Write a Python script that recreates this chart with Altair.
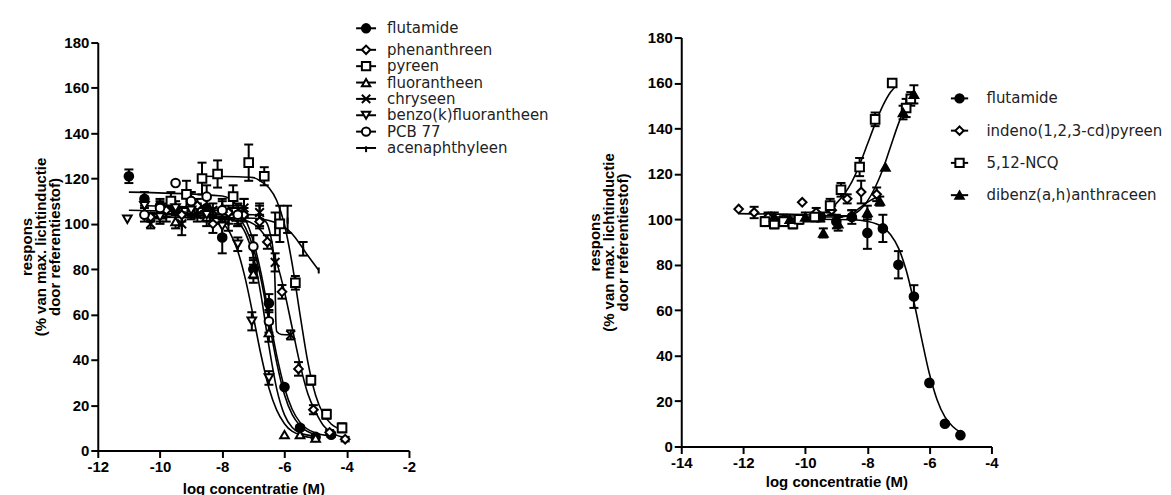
import altair as alt
import pandas as pd

# ---------------- series names ----------------
LEFT_SERIES = ["flutamide", "phenanthreen", "pyreen", "fluorantheen", "chryseen",
               "benzo(k)fluorantheen", "PCB 77", "acenaphthyleen"]
RIGHT_SERIES = ["flutamide", "indeno(1,2,3-cd)pyreen", "5,12-NCQ", "dibenz(a,h)anthraceen"]

# ---------------- left panel: measured points (x, y, sem) ----------------
L_FLU_X = [-11, -10.5, -10, -9.5, -9, -8.5, -8, -7.5, -7, -6.5, -6, -5.5, -5, -4.5]
L_FLU_Y = [121, 111, 108, 106, 110, 107, 94, 104, 80, 65, 28, 10, 6, 7]
L_FLU_E = [3, 3, 3, 2, 4, 4, 7, 5, 4, 4, 0, 1, 1, 1]

L_PHE_X = [-10.3, -9.8, -9.3, -8.8, -8.3, -7.8, -7.3, -6.8, -6.55, -6.08, -5.55, -5.07, -4.55, -4.05]
L_PHE_Y = [103, 106, 104, 108, 100, 105, 104, 101, 92, 70, 36, 18, 8, 5]
L_PHE_E = [2, 3, 3, 3, 4, 3, 3, 3, 3, 3, 3, 2, 1, 1]

L_PYR_X = [-9.65, -9.15, -8.65, -8.15, -7.65, -7.15, -6.65, -6.15, -5.65, -5.15, -4.65, -4.15]
L_PYR_Y = [110, 113, 120, 122, 112, 127, 121, 100, 74, 31, 16, 10]
L_PYR_E = [4, 6, 7, 6, 5, 8, 4, 8, 3, 2, 2, 2]

L_FLR_X = [-10, -9.5, -9, -8.5, -8, -7.5, -7, -6.5, -6, -5.5, -5]
L_FLR_Y = [104, 101, 106, 103, 107, 103, 78, 52, 7, 7, 5.5]
L_FLR_E = [3, 3, 3, 4, 4, 4, 4, 4, 0, 0, 0]

L_CHR_X = [-10.3, -9.3, -8.8, -8.3, -7.8, -7.3, -6.8, -6.3, -5.8]
L_CHR_Y = [100, 100, 104, 106, 103, 107, 105, 83, 51]
L_CHR_E = [0, 0, 3, 3, 3, 4, 3, 4, 2]

L_BEN_X = [-11.05, -10.5, -10, -9.5, -9, -8.5, -8, -7.5, -7.05, -6.5]
L_BEN_Y = [102, 108, 103, 107, 106, 104, 99, 91, 57, 32]
L_BEN_E = [0, 4, 3, 3, 4, 3, 4, 3, 4, 3]

L_PCB_X = [-10.5, -10, -9.5, -9, -8.5, -8, -7.5, -7, -6.5]
L_PCB_Y = [104, 107, 118, 110, 112, 106, 104, 90, 57]
L_PCB_E = [3, 3, 0, 4, 5, 4, 4, 5, 5]

L_ACE_X = [-10.3, -9.8, -9.3, -8.8, -8.3, -7.8, -7.3, -6.8, -6.3, -5.9, -5.4, -4.9]
L_ACE_Y = [101, 104, 99, 106, 103, 101, 107, 104, 100, 102, 89, 80]
L_ACE_E = [3, 3, 4, 3, 3, 4, 4, 5, 5, 6, 3, 0]

# ---------------- left panel: fitted curves ----------------
L_FLU_CX = [-11, -8, -7.5, -7.25, -7, -6.75, -6.5, -6.25, -6, -5.75, -5.5, -5, -4.5]
L_FLU_CY = [114, 112.3, 107.6, 101.9, 92.3, 78, 60, 42, 27.7, 18.1, 12.4, 7.7, 6.4]

L_PHE_CX = [-10.3, -7.5, -7, -6.75, -6.5, -6.25, -6, -5.75, -5.5, -5.25, -5, -4.75, -4.5, -4]
L_PHE_CY = [103, 102, 100, 97, 92, 83, 70, 54, 38, 25, 17, 11, 8, 5.5]

L_PYR_CX = [-8.7, -7.5, -7, -6.75, -6.5, -6.25, -6, -5.75, -5.5, -5.25, -5, -4.75, -4.5, -4.15]
L_PYR_CY = [121, 120.8, 120.4, 118.7, 115.9, 110.3, 99.6, 82.1, 60, 39.1, 24.4, 16, 11.7, 9.2]

L_FLR_CX = [-10, -8, -7.5, -7.25, -7, -6.75, -6.5, -6.25, -6, -5.75, -5.5, -5]
L_FLR_CY = [104, 103.4, 100.6, 95.8, 85.7, 68.2, 46, 27.2, 15.7, 10.1, 7.7, 6.3]

L_CHR_CX = [-10.3, -7, -6.6, -6.45, -6.35, -6.3, -6.28, -6.25, -6.1, -5.8]
L_CHR_CY = [104.5, 104, 101, 95, 86, 72, 58, 52.5, 51.2, 51]

L_BEN_CX = [-11, -8.5, -8, -7.75, -7.5, -7.25, -7, -6.75, -6.5, -6.25, -6, -5.5, -5]
L_BEN_CY = [106, 104.6, 100.7, 96, 87.9, 75.3, 59, 41.9, 27.6, 17.8, 11.8, 6.8, 5.4]

L_PCB_CX = [-10.5, -8, -7.5, -7.25, -7, -6.75, -6.5, -6.25, -6, -5.75, -5.5, -5]
L_PCB_CY = [108, 106.8, 103.1, 98.2, 89.3, 75.2, 57, 38.8, 24.6, 15.8, 10.9, 7]

L_ACE_CX = [-10.3, -7, -6.5, -6, -5.75, -5.5, -5.25, -4.9]
L_ACE_CY = [103, 102.5, 101.5, 98.5, 95.5, 91, 86, 79.5]

# ---------------- right panel: measured points ----------------
R_FLU_X = [-9.5, -9, -8.5, -8, -7.5, -7, -6.5, -6, -5.5, -5]
R_FLU_Y = [101, 99, 101, 94, 96, 80, 66, 28, 10, 5]
R_FLU_E = [2, 3, 3, 7, 6, 6, 5, 0, 0, 0]

R_IND_X = [-12.15, -11.65, -11.2, -10.7, -10.1, -9.65, -9.15, -8.65, -8.2, -7.7]
R_IND_Y = [104.5, 103, 101, 100, 107.5, 103, 104, 109, 112, 111]
R_IND_E = [0, 2.5, 2, 2, 0, 2, 2, 2, 5, 3]

R_NCQ_X = [-11.3, -11.0, -10.7, -10.4, -10.2, -9.7, -9.2, -8.85, -8.25, -7.75, -7.2, -6.75, -6.6]
R_NCQ_Y = [99, 98, 99, 98, 100, 101, 106, 113, 123, 144, 160, 149, 153]
R_NCQ_E = [2, 2, 2, 2, 2, 2, 3, 3, 4, 3, 0, 4, 3]

R_DIB_X = [-11, -10.5, -10, -9.42, -8.94, -8.5, -8.0, -7.6, -7.42, -6.85, -6.5]
R_DIB_Y = [101, 100, 101, 94, 98, 102, 103, 108, 123, 147, 155]
R_DIB_E = [2, 2, 2, 2, 3, 2, 3, 2, 0, 3, 4]

# ---------------- right panel: fitted curves ----------------
R_FLU_CX = [-9.7, -8.5, -8, -7.5, -7.25, -7, -6.75, -6.5, -6.25, -6, -5.75, -5.5, -5.25, -5]
R_FLU_CY = [100, 99.8, 99.1, 96.5, 93.2, 87.4, 77.7, 63.7, 47.4, 32, 20.5, 13, 8.8, 6.3]

R_IND_CX = [-12.15, -10, -9, -8.6, -8.3, -8, -7.6]
R_IND_CY = [102.5, 102, 101.5, 101.5, 104.5, 107.5, 110.5]

R_NCQ_CX = [-11.3, -10, -9.5, -9.25, -9, -8.75, -8.5, -8.25, -8, -7.75, -7.5, -7.25, -7.05]
R_NCQ_CY = [100, 100.5, 102, 104, 107, 111, 116.5, 124, 133, 142, 150, 156, 159]

R_DIB_CX = [-11, -9, -8.6, -8.25, -8, -7.75, -7.5, -7.25, -7, -6.75, -6.5]
R_DIB_CY = [101, 101, 101.5, 104, 108, 114, 122, 132, 142, 150, 155]

# ---------------- axis ticks ----------------
Y_TICKS = [0, 20, 40, 60, 80, 100, 120, 140, 160, 180]
L_X_TICKS = [-12, -10, -8, -6, -4, -2]
R_X_TICKS = [-14, -12, -10, -8, -6, -4]

# ---------------- styles ----------------
X_PATH = "M-1,-1L1,1M-1,1L1,-1"
TICK_PATH = "M0,-0.4L0,1"
LEFT_SHAPES = ["circle", "diamond", "square", "triangle-up", X_PATH, "triangle-down", "circle", TICK_PATH]
LEFT_FILLS = ["black", "white", "white", "white", "transparent", "white", "white", "black"]
RIGHT_SHAPES = ["circle", "diamond", "square", "triangle-up"]
RIGHT_FILLS = ["black", "white", "white", "black"]
FONT = "Liberation Sans"
LEG_FONT = "DejaVu Sans"


def points_df(names, xs, ys, es):
    rows = []
    for i, (n, X, Y, E) in enumerate(zip(names, xs, ys, es)):
        for a, b, c in zip(X, Y, E):
            rows.append({"series": n, "idx": i, "x": a, "y": b, "err": c})
    return pd.DataFrame(rows)


def curves_df(names, xs, ys):
    rows = []
    for i, (n, X, Y) in enumerate(zip(names, xs, ys)):
        for a, b in zip(X, Y):
            rows.append({"series": n, "idx": i, "x": a, "y": b})
    return pd.DataFrame(rows)


def panel(names, shapes, fills, pts, crv, xdom, xticks, w, h, yrange, ytitle, ytpad, xtpad,
          leg_x, leg_tx, leg_dom, leg_rng, leg_line):
    n = len(names)
    xs = alt.Scale(domain=xdom, nice=False, zero=False)
    ys = alt.Scale(domain=[0, 180], range=yrange, nice=False, zero=False)
    xax = alt.Axis(values=xticks, title="log concentratie (M)", titlePadding=xtpad)
    yax = alt.Axis(values=Y_TICKS, title=ytitle, titlePadding=ytpad)
    X = alt.X("x:Q", scale=xs, axis=xax)
    Y = alt.Y("y:Q", scale=ys, axis=yax)
    shp = alt.Shape("idx:N", scale=alt.Scale(domain=list(range(n)), range=shapes), legend=None)
    fil = alt.Fill("idx:N", scale=alt.Scale(domain=list(range(n)), range=fills), legend=None)

    curves = alt.Chart(crv).mark_line(color="black", strokeWidth=1.6, interpolate="monotone").encode(
        x=X, y=Y, detail="idx:N")
    base_err = alt.Chart(pts).transform_filter("datum.err > 0").transform_calculate(
        lo="datum.y - datum.err", hi="datum.y + datum.err")
    Ylo = alt.Y("lo:Q", scale=ys, axis=yax)
    Yhi = alt.Y("hi:Q", scale=ys, axis=yax)
    rules = base_err.mark_rule(color="black", strokeWidth=2).encode(x=X, y=Ylo, y2="hi:Q")
    cap_lo = base_err.mark_tick(orient="horizontal", size=9, thickness=2, color="black",
                                opacity=1).encode(x=X, y=Ylo)
    cap_hi = base_err.mark_tick(orient="horizontal", size=9, thickness=2, color="black",
                                opacity=1).encode(x=X, y=Yhi)
    marks = alt.Chart(pts).mark_point(filled=True, stroke="black", strokeWidth=2, size=75,
                                      opacity=1).encode(x=X, y=Y, shape=shp, fill=fil)
    main = alt.layer(curves, rules, cap_lo, cap_hi, marks)

    leg = pd.DataFrame({"series": names, "idx": list(range(n))})
    ly = alt.Y("idx:Q", scale=alt.Scale(domain=leg_dom, range=leg_rng, nice=False, zero=False),
               axis=None)
    lline = alt.Chart(leg).mark_point(shape="stroke", size=leg_line, strokeWidth=2, color="black",
                                      opacity=1).encode(x=alt.value(leg_x), y=ly)
    lpts = alt.Chart(leg).mark_point(filled=True, stroke="black", strokeWidth=2, size=70,
                                     opacity=1).encode(x=alt.value(leg_x), y=ly, shape=shp, fill=fil)
    ltxt = alt.Chart(leg).mark_text(align="left", baseline="middle", font=LEG_FONT, fontSize=15,
                                    color="#222").encode(x=alt.value(leg_tx), y=ly, text="series:N")
    legend = alt.layer(lline, lpts, ltxt)
    return alt.layer(main, legend).resolve_scale(y="independent").properties(width=w, height=h)


left_pts = points_df(LEFT_SERIES,
                     [L_FLU_X, L_PHE_X, L_PYR_X, L_FLR_X, L_CHR_X, L_BEN_X, L_PCB_X, L_ACE_X],
                     [L_FLU_Y, L_PHE_Y, L_PYR_Y, L_FLR_Y, L_CHR_Y, L_BEN_Y, L_PCB_Y, L_ACE_Y],
                     [L_FLU_E, L_PHE_E, L_PYR_E, L_FLR_E, L_CHR_E, L_BEN_E, L_PCB_E, L_ACE_E])
left_crv = curves_df(LEFT_SERIES,
                     [L_FLU_CX, L_PHE_CX, L_PYR_CX, L_FLR_CX, L_CHR_CX, L_BEN_CX, L_PCB_CX, L_ACE_CX],
                     [L_FLU_CY, L_PHE_CY, L_PYR_CY, L_FLR_CY, L_CHR_CY, L_BEN_CY, L_PCB_CY, L_ACE_CY])
right_pts = points_df(RIGHT_SERIES,
                      [R_FLU_X, R_IND_X, R_NCQ_X, R_DIB_X],
                      [R_FLU_Y, R_IND_Y, R_NCQ_Y, R_DIB_Y],
                      [R_FLU_E, R_IND_E, R_NCQ_E, R_DIB_E])
right_crv = curves_df(RIGHT_SERIES,
                      [R_FLU_CX, R_IND_CX, R_NCQ_CX, R_DIB_CX],
                      [R_FLU_CY, R_IND_CY, R_NCQ_CY, R_DIB_CY])

left = panel(LEFT_SERIES, LEFT_SHAPES, LEFT_FILLS, left_pts, left_crv, [-12, -2], L_X_TICKS,
             312, 414, [414, 5], ["respons", "(% van max. lichtinductie", "door referentiestof)"], 1, 7,
             269, 290, [0, 1, 7], [-9.3, 12.3, 110.7], 400)
right = panel(RIGHT_SERIES, RIGHT_SHAPES, RIGHT_FILLS, right_pts, right_crv, [-14, -4], R_X_TICKS,
              311, 410, [410, 0], ["respons", "(% van  max. lichtinductie", "door referentiestof)"], 17, 4,
              279, 306, [0, 3], [61, 158], 300)

chart = alt.hconcat(left, right, spacing=37).resolve_scale(
    shape="independent", fill="independent"
).properties(
    padding={"left": 11, "top": 11, "right": 0, "bottom": 0}
).configure_view(stroke=None).configure_axis(
    grid=False, tickSize=7, tickWidth=2, tickColor="black", domainColor="black", domainWidth=2,
    labelFont=FONT, labelFontSize=15, labelFontWeight="bold", labelColor="black",
    labelPadding=2, labelExpr="'' + datum.value", labelFlush=False, labelOverlap=False,
    titleFont=FONT, titleFontSize=15, titleFontWeight="bold", titleColor="black",
    titleLineHeight=14
)

chart.save("out.html", embed_options={"renderer": "svg", "actions": False})
